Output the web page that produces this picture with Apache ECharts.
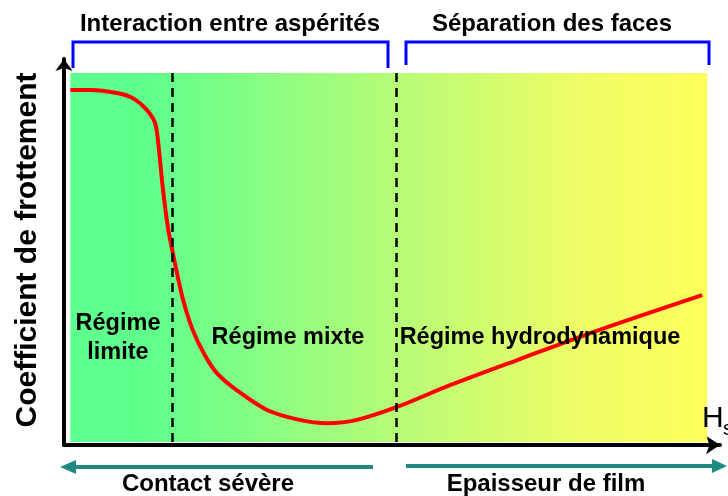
<!DOCTYPE html>
<html>
<head>
<meta charset="utf-8">
<script src="https://cdn.jsdelivr.net/npm/echarts@6/dist/echarts.min.js"></script>
<style>
  html, body { margin: 0; padding: 0; background: #fff; }
  #main { width: 728px; height: 496px; }
</style>
</head>
<body>
<div id="main"></div>
<script>
// épaisseur de film (abscisse 0-100) / coefficient de frottement (ordonnée 0-100)
var hValues = [0, 3.1, 7.3, 9.8, 12.0, 13.3, 13.8, 14.5, 15.3, 16.0, 16.7, 17.7, 19.2, 21.1, 23.0, 26.1, 30.9, 36.0, 40.3, 45.0, 51.3, 59.6, 70.6, 83.1, 99.2]
var frictionValues = [95.4, 95.4, 94.6, 93.2, 90.0, 86.4, 81.0, 69.1, 58.3, 52.0, 46.1, 38.5, 30.4, 23.6, 18.7, 14.1, 8.7, 6.0, 5.1, 6.0, 9.5, 15.4, 22.5, 30.4, 39.8]
// limites entre les régimes (pointillés)
var regimeBounds = [16.0, 51.2]
var regimeNames = ['Régime\nlimite', 'Régime mixte', 'Régime hydrodynamique']
var zoneNames = ['Interaction entre aspérités', 'Séparation des faces']
var directionNames = ['Contact sévère', 'Epaisseur de film']
var yAxisName = 'Coefficient de frottement'
var xAxisName = 'H'
var xAxisSub = 's'

var font = '"Liberation Sans", Arial, sans-serif'
var teal = '#1f8a82'

var chart = echarts.init(document.getElementById('main'))

var lineData = hValues.map(function (h, i) {
  return [h, frictionValues[i]]
})

chart.setOption({
  animation: false,
  grid: {
    left: 64,
    right: 8,
    top: 59,
    bottom: 51
  },
  xAxis: {
    type: 'value',
    min: -1,
    max: 102,
    axisLine: {
      show: true,
      onZero: false,
      symbol: ['none', 'arrow'],
      symbolSize: [14, 14],
      lineStyle: { color: '#000', width: 4 }
    },
    axisTick: { show: false },
    axisLabel: { show: false },
    splitLine: { show: false }
  },
  yAxis: {
    type: 'value',
    min: -0.8,
    max: 103.8,
    axisLine: {
      show: true,
      onZero: false,
      symbol: ['none', 'arrow'],
      symbolSize: [13, 12],
      lineStyle: { color: '#000', width: 4 }
    },
    axisTick: { show: false },
    axisLabel: { show: false },
    splitLine: { show: false }
  },
  series: [
    {
      type: 'line',
      data: lineData,
      smooth: 0.3,
      symbol: 'none',
      z: 3,
      lineStyle: { color: '#ff0000', width: 4 },
      // fond dégradé vert -> jaune
      markArea: {
        silent: true,
        label: { show: false },
        itemStyle: {
          color: new echarts.graphic.LinearGradient(0, 0, 1, 0, [
            { offset: 0, color: '#5cff8e' },
            { offset: 0.12, color: '#60ff8c' },
            { offset: 0.5, color: '#b4fc78' },
            { offset: 0.8, color: '#eefd66' },
            { offset: 1, color: '#ffff5c' }
          ]),
          borderWidth: 0
        },
        data: [[{ coord: [0, 0] }, { coord: [100, 100] }]]
      },
      // séparations des régimes
      markLine: {
        silent: true,
        symbol: ['none', 'none'],
        label: { show: false },
        lineStyle: { color: '#000', width: 2.5, type: [9, 6] },
        data: regimeBounds.map(function (b) {
          return [{ coord: [b, 0] }, { coord: [b, 100] }]
        })
      }
    }
  ],
  graphic: [
    // accolades bleues
    {
      type: 'polyline',
      shape: { points: [[73, 68], [73, 42], [388, 42], [388, 68]] },
      style: { stroke: '#0000ff', lineWidth: 3, fill: null }
    },
    {
      type: 'polyline',
      shape: { points: [[406, 65], [406, 42], [709, 42], [709, 65]] },
      style: { stroke: '#0000ff', lineWidth: 3, fill: null }
    },
    {
      type: 'text', x: 230, y: 24,
      style: { text: zoneNames[0], font: 'bold 24px ' + font, fill: '#000', align: 'center', verticalAlign: 'middle' }
    },
    {
      type: 'text', x: 552, y: 24,
      style: { text: zoneNames[1], font: 'bold 24px ' + font, fill: '#000', align: 'center', verticalAlign: 'middle' }
    },
    // régimes (au-dessus du fond)
    {
      type: 'text', x: 118, y: 338, z: 10,
      style: { text: regimeNames[0], font: 'bold 23.5px ' + font, lineHeight: 29, fill: '#000', align: 'center', verticalAlign: 'middle' }
    },
    {
      type: 'text', x: 288, y: 338, z: 10,
      style: { text: regimeNames[1], font: 'bold 23.5px ' + font, fill: '#000', align: 'center', verticalAlign: 'middle' }
    },
    {
      type: 'text', x: 540, y: 338, z: 10,
      style: { text: regimeNames[2], font: 'bold 23.5px ' + font, fill: '#000', align: 'center', verticalAlign: 'middle' }
    },
    // titre axe vertical
    {
      type: 'text', x: 28, y: 250, rotation: Math.PI / 2,
      style: { text: yAxisName, font: 'bold 30px ' + font, fill: '#000', align: 'center', verticalAlign: 'middle' }
    },
    // H_s
    {
      type: 'text', x: 702, y: 419, z: 10,
      style: { text: xAxisName, font: '30px ' + font, fill: '#000', align: 'left', verticalAlign: 'middle' }
    },
    {
      type: 'text', x: 723, y: 429, z: 10,
      style: { text: xAxisSub, font: '20px ' + font, fill: '#000', align: 'left', verticalAlign: 'middle' }
    },
    // flèches du bas
    {
      type: 'line',
      shape: { x1: 373, y1: 467, x2: 72, y2: 467 },
      style: { stroke: teal, lineWidth: 4 }
    },
    {
      type: 'polygon',
      shape: { points: [[60, 467], [76, 460], [76, 474]] },
      style: { fill: teal }
    },
    {
      type: 'line',
      shape: { x1: 406, y1: 466, x2: 715, y2: 466 },
      style: { stroke: teal, lineWidth: 4 }
    },
    {
      type: 'polygon',
      shape: { points: [[727, 466], [712, 459], [712, 473]] },
      style: { fill: teal }
    },
    {
      type: 'text', x: 208, y: 484,
      style: { text: directionNames[0], font: 'bold 24px ' + font, fill: '#000', align: 'center', verticalAlign: 'middle' }
    },
    {
      type: 'text', x: 546, y: 484,
      style: { text: directionNames[1], font: 'bold 24px ' + font, fill: '#000', align: 'center', verticalAlign: 'middle' }
    }
  ]
})
</script>
</body>
</html>
